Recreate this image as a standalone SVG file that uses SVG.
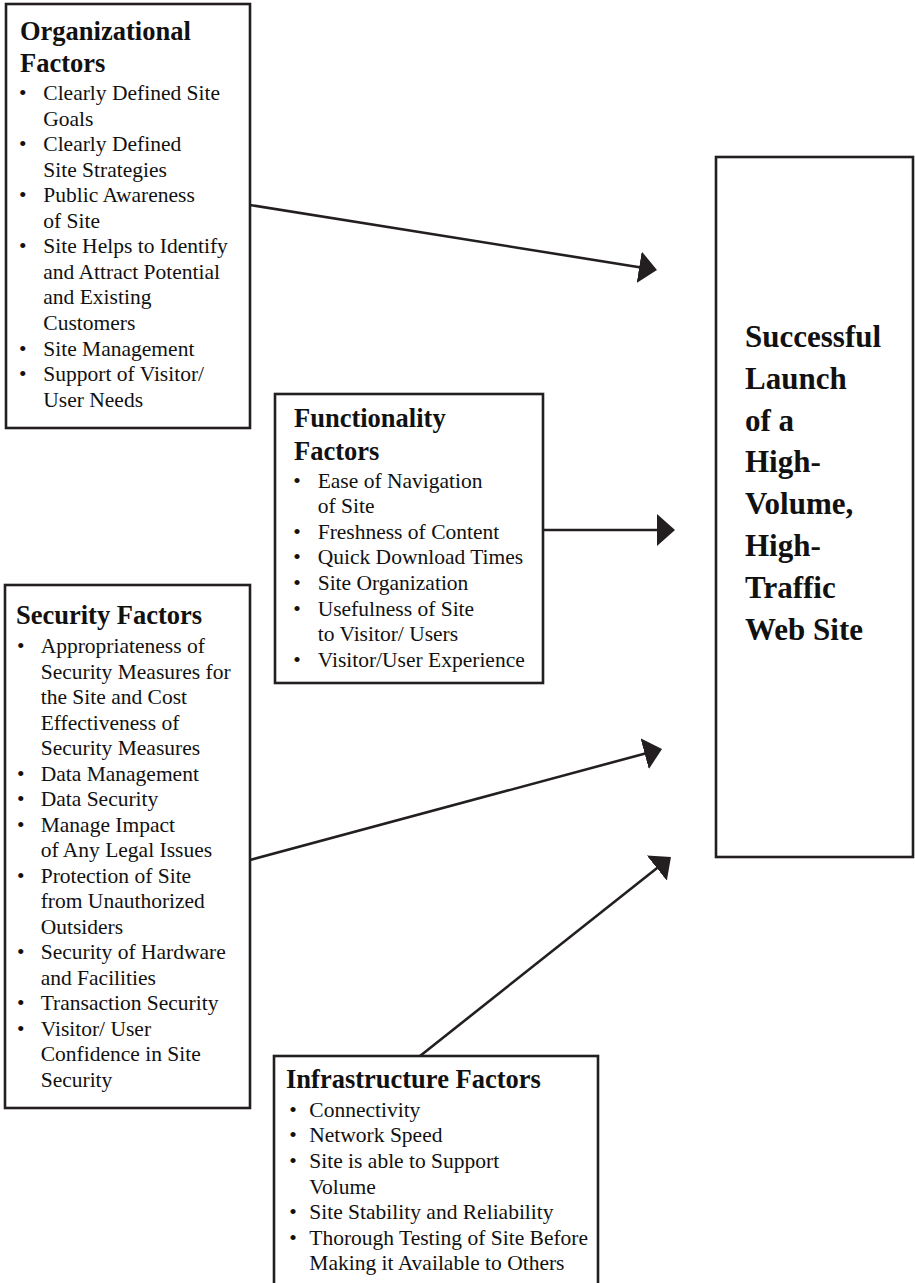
<svg xmlns="http://www.w3.org/2000/svg" width="915" height="1283" viewBox="0 0 915 1283">
<style>
.box{fill:#fff;stroke:#231f20;stroke-width:2.6}
.ttl{font-family:"Liberation Serif","Times New Roman",serif;font-weight:bold;font-size:26.5px;fill:#111}
.txt{font-family:"Liberation Serif","Times New Roman",serif;font-size:21.5px;fill:#111}
.big{font-family:"Liberation Serif","Times New Roman",serif;font-weight:bold;font-size:31px;fill:#111}
.con{fill:none;stroke:#231f20;stroke-width:2.6}
</style>
<defs>
<marker id="ah" markerUnits="userSpaceOnUse" markerWidth="18" markerHeight="32" viewBox="0 0 18 32" refX="16" refY="16" orient="auto">
<path d="M0,0 L18,16 L0,32 z" fill="#231f20"/>
</marker>
</defs>
<rect width="915" height="1283" fill="#fff"/>

<g id="connectors">
<line class="con" x1="250" y1="205" x2="655" y2="269.7" marker-end="url(#ah)"/>
<line class="con" x1="543" y1="530" x2="673" y2="530" marker-end="url(#ah)"/>
<line class="con" x1="250" y1="860" x2="660.1" y2="749.5" marker-end="url(#ah)"/>
<line class="con" x1="420" y1="1056" x2="669.4" y2="858.2" marker-end="url(#ah)"/>
</g>

<g id="organizational">
<rect class="box" x="6" y="4" width="244" height="424"/>
<text class="ttl" x="20" y="40">Organizational</text>
<text class="ttl" x="20" y="72">Factors</text>
<g class="txt">
<text x="19" y="100">•</text><text x="43.3" y="100">Clearly Defined Site</text>
<text x="43.3" y="125.5">Goals</text>
<text x="19" y="151.1">•</text><text x="43.3" y="151.1">Clearly Defined</text>
<text x="43.3" y="176.6">Site Strategies</text>
<text x="19" y="202.2">•</text><text x="43.3" y="202.2">Public Awareness</text>
<text x="43.3" y="227.7">of Site</text>
<text x="19" y="253.3">•</text><text x="43.3" y="253.3">Site Helps to Identify</text>
<text x="43.3" y="278.8">and Attract Potential</text>
<text x="43.3" y="304.4">and Existing</text>
<text x="43.3" y="329.9">Customers</text>
<text x="19" y="355.5">•</text><text x="43.3" y="355.5">Site Management</text>
<text x="19" y="381">•</text><text x="43.3" y="381">Support of Visitor/</text>
<text x="43.3" y="406.6">User Needs</text>
</g>
</g>

<g id="functionality">
<rect class="box" x="275" y="394" width="268" height="289"/>
<text class="ttl" x="294" y="426.7">Functionality</text>
<text class="ttl" x="294" y="460">Factors</text>
<g class="txt">
<text x="293.3" y="487.7">•</text><text x="317.7" y="487.7">Ease of Navigation</text>
<text x="317.7" y="513.3">of Site</text>
<text x="293.3" y="538.8">•</text><text x="317.7" y="538.8">Freshness of Content</text>
<text x="293.3" y="564.4">•</text><text x="317.7" y="564.4">Quick Download Times</text>
<text x="293.3" y="590">•</text><text x="317.7" y="590">Site Organization</text>
<text x="293.3" y="615.5">•</text><text x="317.7" y="615.5">Usefulness of Site</text>
<text x="317.7" y="641.1">to Visitor/ Users</text>
<text x="293.3" y="666.7">•</text><text x="317.7" y="666.7">Visitor/User Experience</text>
</g>
</g>

<g id="security">
<rect class="box" x="5" y="585" width="245" height="523"/>
<text class="ttl" x="16" y="624">Security Factors</text>
<g class="txt">
<text x="17" y="653.3">•</text><text x="40.7" y="653.3">Appropriateness of</text>
<text x="40.7" y="678.8">Security Measures for</text>
<text x="40.7" y="704.3">the Site and Cost</text>
<text x="40.7" y="729.8">Effectiveness of</text>
<text x="40.7" y="755.3">Security Measures</text>
<text x="17" y="780.8">•</text><text x="40.7" y="780.8">Data Management</text>
<text x="17" y="806.3">•</text><text x="40.7" y="806.3">Data Security</text>
<text x="17" y="831.8">•</text><text x="40.7" y="831.8">Manage Impact</text>
<text x="40.7" y="857.3">of Any Legal Issues</text>
<text x="17" y="882.8">•</text><text x="40.7" y="882.8">Protection of Site</text>
<text x="40.7" y="908.3">from Unauthorized</text>
<text x="40.7" y="933.8">Outsiders</text>
<text x="17" y="959.3">•</text><text x="40.7" y="959.3">Security of Hardware</text>
<text x="40.7" y="984.8">and Facilities</text>
<text x="17" y="1010.3">•</text><text x="40.7" y="1010.3">Transaction Security</text>
<text x="17" y="1035.8">•</text><text x="40.7" y="1035.8">Visitor/ User</text>
<text x="40.7" y="1061.3">Confidence in Site</text>
<text x="40.7" y="1086.8">Security</text>
</g>
</g>

<g id="infrastructure">
<rect class="box" x="274" y="1056" width="324" height="240"/>
<text class="ttl" x="286" y="1088.3">Infrastructure Factors</text>
<g class="txt">
<text x="289.3" y="1116.7">•</text><text x="309.3" y="1116.7">Connectivity</text>
<text x="289.3" y="1142.3">•</text><text x="309.3" y="1142.3">Network Speed</text>
<text x="289.3" y="1167.9">•</text><text x="309.3" y="1167.9">Site is able to Support</text>
<text x="309.3" y="1193.5">Volume</text>
<text x="289.3" y="1219.1">•</text><text x="309.3" y="1219.1">Site Stability and Reliability</text>
<text x="289.3" y="1244.7">•</text><text x="309.3" y="1244.7">Thorough Testing of Site Before</text>
<text x="309.3" y="1270.3">Making it Available to Others</text>
</g>
</g>

<g id="outcome">
<rect class="box" x="716" y="157" width="197" height="700"/>
<g class="big">
<text x="745" y="347">Successful</text>
<text x="745" y="388.8">Launch</text>
<text x="745" y="430.6">of a</text>
<text x="745" y="472.4">High-</text>
<text x="745" y="514.2">Volume,</text>
<text x="745" y="556">High-</text>
<text x="745" y="597.8">Traffic</text>
<text x="745" y="639.6">Web Site</text>
</g>
</g>
</svg>
